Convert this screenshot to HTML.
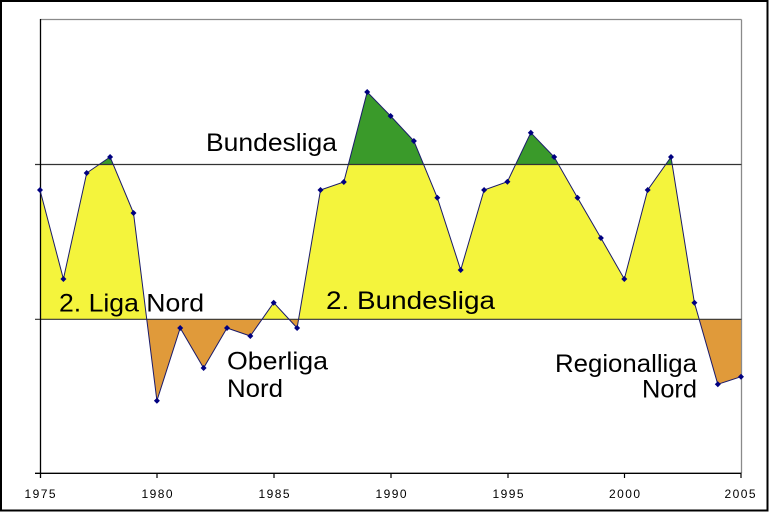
<!DOCTYPE html>
<html>
<head>
<meta charset="utf-8">
<style>
html,body{margin:0;padding:0;background:#fff;}
svg{display:block;}
text{font-family:"Liberation Sans",Arial,sans-serif;fill:#000;}
</style>
</head>
<body>
<svg width="769" height="512" viewBox="0 0 769 512" xmlns="http://www.w3.org/2000/svg">
<defs>
<clipPath id="cg"><rect x="40" y="0" width="702" height="164.5"/></clipPath>
<clipPath id="cy"><rect x="40" y="164.5" width="702" height="154.8"/></clipPath>
<clipPath id="co"><rect x="40" y="319.3" width="702" height="160"/></clipPath>
</defs>
<rect x="0" y="0" width="769" height="512" fill="#fff"/>

<g id="fills">
<polygon clip-path="url(#cg)" fill="#3a9a2a" points="40,319.3 40,190 63.4,279 86.7,173 110.1,157 133.5,213 156.9,400.7 180.2,328 203.6,368 227,328 250.3,336 273.7,302.7 297.1,328 320.5,190 343.8,182 367.2,92 390.6,116 413.9,141 437.3,197.7 460.7,270 484.1,190 507.4,181.7 530.8,132.7 554.2,157 577.5,197.7 600.9,238 624.3,279 647.7,190 671,157 694.4,302.7 717.8,384.3 741,376.7 741,319.3"/>
<polygon clip-path="url(#cy)" fill="#f4f43c" points="40,319.3 40,190 63.4,279 86.7,173 110.1,157 133.5,213 156.9,400.7 180.2,328 203.6,368 227,328 250.3,336 273.7,302.7 297.1,328 320.5,190 343.8,182 367.2,92 390.6,116 413.9,141 437.3,197.7 460.7,270 484.1,190 507.4,181.7 530.8,132.7 554.2,157 577.5,197.7 600.9,238 624.3,279 647.7,190 671,157 694.4,302.7 717.8,384.3 741,376.7 741,319.3"/>
<polygon clip-path="url(#co)" fill="#e09a3a" points="40,319.3 40,190 63.4,279 86.7,173 110.1,157 133.5,213 156.9,400.7 180.2,328 203.6,368 227,328 250.3,336 273.7,302.7 297.1,328 320.5,190 343.8,182 367.2,92 390.6,116 413.9,141 437.3,197.7 460.7,270 484.1,190 507.4,181.7 530.8,132.7 554.2,157 577.5,197.7 600.9,238 624.3,279 647.7,190 671,157 694.4,302.7 717.8,384.3 741,376.7 741,319.3"/>
</g>

<line x1="40" y1="19.5" x2="741.5" y2="19.5" stroke="#8a8a8a" stroke-width="1.3"/>
<line x1="741.5" y1="19.5" x2="741.5" y2="473" stroke="#8a8a8a" stroke-width="1.3"/>

<line x1="35" y1="164.5" x2="741.5" y2="164.5" stroke="#333" stroke-width="1.2"/>
<line x1="35" y1="319.3" x2="741.5" y2="319.3" stroke="#333" stroke-width="1.2"/>

<line x1="40.5" y1="19" x2="40.5" y2="478" stroke="#000" stroke-width="1.3"/>
<line x1="35" y1="473.3" x2="741.5" y2="473.3" stroke="#000" stroke-width="1.3"/>
<g stroke="#000" stroke-width="1.2">
<line x1="157" y1="473" x2="157" y2="478"/>
<line x1="274" y1="473" x2="274" y2="478"/>
<line x1="391" y1="473" x2="391" y2="478"/>
<line x1="508" y1="473" x2="508" y2="478"/>
<line x1="624.5" y1="473" x2="624.5" y2="478"/>
<line x1="741" y1="473" x2="741" y2="478"/>
</g>

<polyline fill="none" stroke="#1a1a6a" stroke-width="1" points="40,190 63.4,279 86.7,173 110.1,157 133.5,213 156.9,400.7 180.2,328 203.6,368 227,328 250.3,336 273.7,302.7 297.1,328 320.5,190 343.8,182 367.2,92 390.6,116 413.9,141 437.3,197.7 460.7,270 484.1,190 507.4,181.7 530.8,132.7 554.2,157 577.5,197.7 600.9,238 624.3,279 647.7,190 671,157 694.4,302.7 717.8,384.3 741,376.7"/>

<g fill="#000080">
<path d="M40,187 L43,190 L40,193 L37,190Z"/>
<path d="M63.4,276 L66.4,279 L63.4,282 L60.4,279Z"/>
<path d="M86.7,170 L89.7,173 L86.7,176 L83.7,173Z"/>
<path d="M110.1,154 L113.1,157 L110.1,160 L107.1,157Z"/>
<path d="M133.5,210 L136.5,213 L133.5,216 L130.5,213Z"/>
<path d="M156.9,397.7 L159.9,400.7 L156.9,403.7 L153.9,400.7Z"/>
<path d="M180.2,325 L183.2,328 L180.2,331 L177.2,328Z"/>
<path d="M203.6,365 L206.6,368 L203.6,371 L200.6,368Z"/>
<path d="M227,325 L230,328 L227,331 L224,328Z"/>
<path d="M250.3,333 L253.3,336 L250.3,339 L247.3,336Z"/>
<path d="M273.7,299.7 L276.7,302.7 L273.7,305.7 L270.7,302.7Z"/>
<path d="M297.1,325 L300.1,328 L297.1,331 L294.1,328Z"/>
<path d="M320.5,187 L323.5,190 L320.5,193 L317.5,190Z"/>
<path d="M343.8,179 L346.8,182 L343.8,185 L340.8,182Z"/>
<path d="M367.2,89 L370.2,92 L367.2,95 L364.2,92Z"/>
<path d="M390.6,113 L393.6,116 L390.6,119 L387.6,116Z"/>
<path d="M413.9,138 L416.9,141 L413.9,144 L410.9,141Z"/>
<path d="M437.3,194.7 L440.3,197.7 L437.3,200.7 L434.3,197.7Z"/>
<path d="M460.7,267 L463.7,270 L460.7,273 L457.7,270Z"/>
<path d="M484.1,187 L487.1,190 L484.1,193 L481.1,190Z"/>
<path d="M507.4,178.7 L510.4,181.7 L507.4,184.7 L504.4,181.7Z"/>
<path d="M530.8,129.7 L533.8,132.7 L530.8,135.7 L527.8,132.7Z"/>
<path d="M554.2,154 L557.2,157 L554.2,160 L551.2,157Z"/>
<path d="M577.5,194.7 L580.5,197.7 L577.5,200.7 L574.5,197.7Z"/>
<path d="M600.9,235 L603.9,238 L600.9,241 L597.9,238Z"/>
<path d="M624.3,276 L627.3,279 L624.3,282 L621.3,279Z"/>
<path d="M647.7,187 L650.7,190 L647.7,193 L644.7,190Z"/>
<path d="M671,154 L674,157 L671,160 L668,157Z"/>
<path d="M694.4,299.7 L697.4,302.7 L694.4,305.7 L691.4,302.7Z"/>
<path d="M717.8,381.3 L720.8,384.3 L717.8,387.3 L714.8,384.3Z"/>
<path d="M741,373.7 L744,376.7 L741,379.7 L738,376.7Z"/>
</g>

<g font-size="25">
<text x="206" y="151" textLength="131" lengthAdjust="spacingAndGlyphs">Bundesliga</text>
<text x="59" y="311.5" textLength="145" lengthAdjust="spacingAndGlyphs">2. Liga Nord</text>
<text x="326" y="309" textLength="169" lengthAdjust="spacingAndGlyphs">2. Bundesliga</text>
<text x="227" y="369.5" textLength="101" lengthAdjust="spacingAndGlyphs">Oberliga</text>
<text x="227" y="397" textLength="56" lengthAdjust="spacingAndGlyphs">Nord</text>
<text x="555" y="372" textLength="142" lengthAdjust="spacingAndGlyphs">Regionalliga</text>
<text x="642" y="397.5" textLength="55" lengthAdjust="spacingAndGlyphs">Nord</text>
</g>

<g font-size="12" text-anchor="middle">
<text x="40" y="498" textLength="31" lengthAdjust="spacing">1975</text>
<text x="157" y="498" textLength="31" lengthAdjust="spacing">1980</text>
<text x="274" y="498" textLength="31" lengthAdjust="spacing">1985</text>
<text x="391" y="498" textLength="31" lengthAdjust="spacing">1990</text>
<text x="508" y="498" textLength="31" lengthAdjust="spacing">1995</text>
<text x="624.5" y="498" textLength="31" lengthAdjust="spacing">2000</text>
<text x="740" y="498" textLength="31" lengthAdjust="spacing">2005</text>
</g>

<rect x="1" y="1" width="766.5" height="509.5" fill="none" stroke="#000" stroke-width="2"/>
</svg>
</body>
</html>
